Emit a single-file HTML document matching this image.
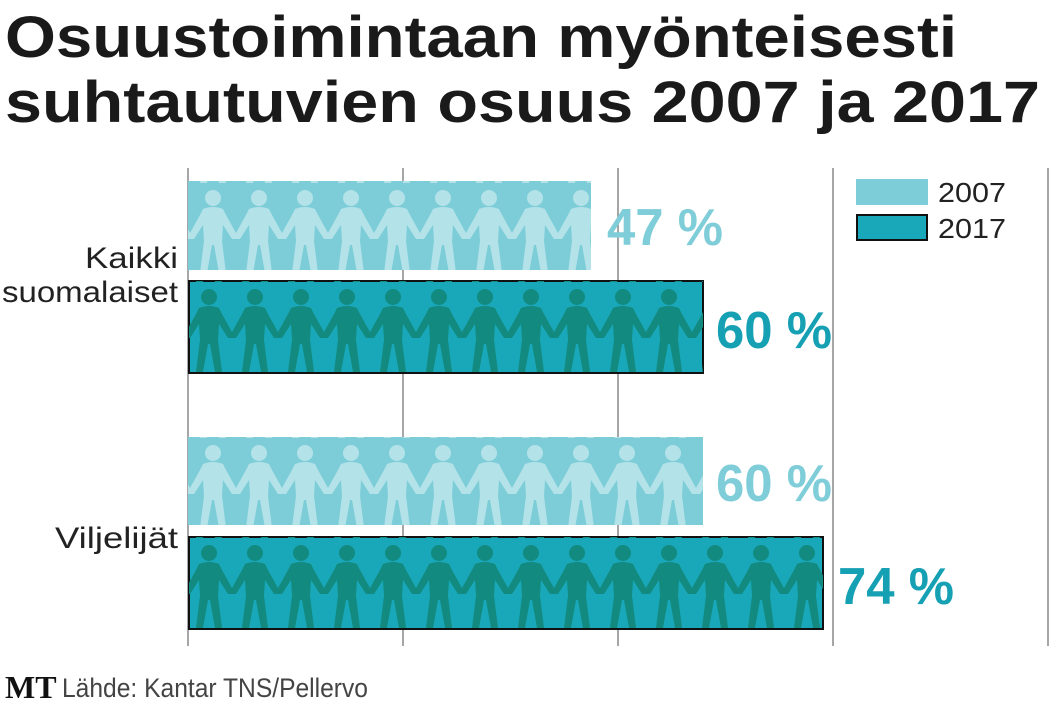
<!DOCTYPE html>
<html><head><meta charset="utf-8"><style>
html,body{margin:0;padding:0;background:#fff;}
svg{display:block;}
</style></head><body>
<svg width="1050" height="702" viewBox="0 0 1050 702" xmlns="http://www.w3.org/2000/svg" font-family="Liberation Sans, sans-serif">
<defs>
  <g id="fig">
    <circle cx="23" cy="13" r="8"/>
    <path d="M13,24 Q23,20 33,24 L36,30 L46,48 L46,54 L42,54 L33,40 L32,56 L36,88 L29,88 L24,60 L22,60 L17,88 L10,88 L14,56 L13,40 L4,54 L0,54 L0,48 L10,30 Z"/>
  </g>
  <pattern id="pl" x="190" y="185" width="46" height="90" patternUnits="userSpaceOnUse">
    <use href="#fig" fill="#b3e2e8"/>
  </pattern>
  <pattern id="pd" x="186" y="284" width="46" height="90" patternUnits="userSpaceOnUse">
    <use href="#fig" fill="#128a80"/>
  </pattern>
  <pattern id="pl2" x="190" y="440" width="46" height="90" patternUnits="userSpaceOnUse">
    <use href="#fig" fill="#b3e2e8"/>
  </pattern>
  <pattern id="pd2" x="186" y="540" width="46" height="90" patternUnits="userSpaceOnUse">
    <use href="#fig" fill="#128a80"/>
  </pattern>
</defs>
<text x="5" y="57" font-size="58" font-weight="bold" fill="#1a1a1a" textLength="952" lengthAdjust="spacingAndGlyphs">Osuustoimintaan myönteisesti</text>
<text x="5" y="122" font-size="58" font-weight="bold" fill="#1a1a1a" textLength="1035" lengthAdjust="spacingAndGlyphs">suhtautuvien osuus 2007 ja 2017</text>

<g stroke="#888" stroke-width="1.5">
  <line x1="188" y1="168" x2="188" y2="646"/>
  <line x1="403" y1="168" x2="403" y2="646"/>
  <line x1="618" y1="168" x2="618" y2="646"/>
  <line x1="833" y1="168" x2="833" y2="646"/>
  <line x1="1048" y1="168" x2="1048" y2="646"/>
</g>

<rect x="188" y="181" width="403" height="89" fill="#7ccdd8"/>
<rect x="188" y="181" width="403" height="89" fill="url(#pl)"/>
<rect x="189" y="281" width="514" height="92" fill="#19a8b9" stroke="#111" stroke-width="2"/>
<rect x="189" y="281" width="514" height="92" fill="url(#pd)"/>
<rect x="188" y="437" width="515" height="88" fill="#7ccdd8"/>
<rect x="188" y="437" width="515" height="88" fill="url(#pl2)"/>
<rect x="189" y="537" width="634" height="92" fill="#19a8b9" stroke="#111" stroke-width="2"/>
<rect x="189" y="537" width="634" height="92" fill="url(#pd2)"/>

<g font-size="52" font-weight="bold">
<text x="607" y="245" fill="#7fcdd8" textLength="116" lengthAdjust="spacingAndGlyphs">47 %</text>
<text x="716" y="348" fill="#16a0b3" textLength="116" lengthAdjust="spacingAndGlyphs">60 %</text>
<text x="716" y="501" fill="#7fcdd8" textLength="116" lengthAdjust="spacingAndGlyphs">60 %</text>
<text x="838" y="604" fill="#16a0b3" textLength="116" lengthAdjust="spacingAndGlyphs">74 %</text>
</g>

<g font-size="30" fill="#222">
<text x="85" y="268" textLength="93" lengthAdjust="spacingAndGlyphs">Kaikki</text>
<text x="2" y="302" textLength="176" lengthAdjust="spacingAndGlyphs">suomalaiset</text>
<text x="55" y="548" textLength="123" lengthAdjust="spacingAndGlyphs">Viljelijät</text>
</g>

<rect x="856" y="179" width="72" height="26" fill="#7ccdd8"/>
<rect x="857" y="215" width="70" height="25" fill="#19a8b9" stroke="#111" stroke-width="2"/>
<g font-size="28" fill="#222">
<text x="938" y="202" textLength="68" lengthAdjust="spacingAndGlyphs">2007</text>
<text x="938" y="238" textLength="68" lengthAdjust="spacingAndGlyphs">2017</text>
</g>

<text x="5" y="698" font-family="Liberation Serif, serif" font-weight="bold" font-size="32" fill="#111">MT</text>
<text x="62" y="697" font-size="27" fill="#444" textLength="306" lengthAdjust="spacingAndGlyphs">Lähde: Kantar TNS/Pellervo</text>
</svg>
</body></html>
